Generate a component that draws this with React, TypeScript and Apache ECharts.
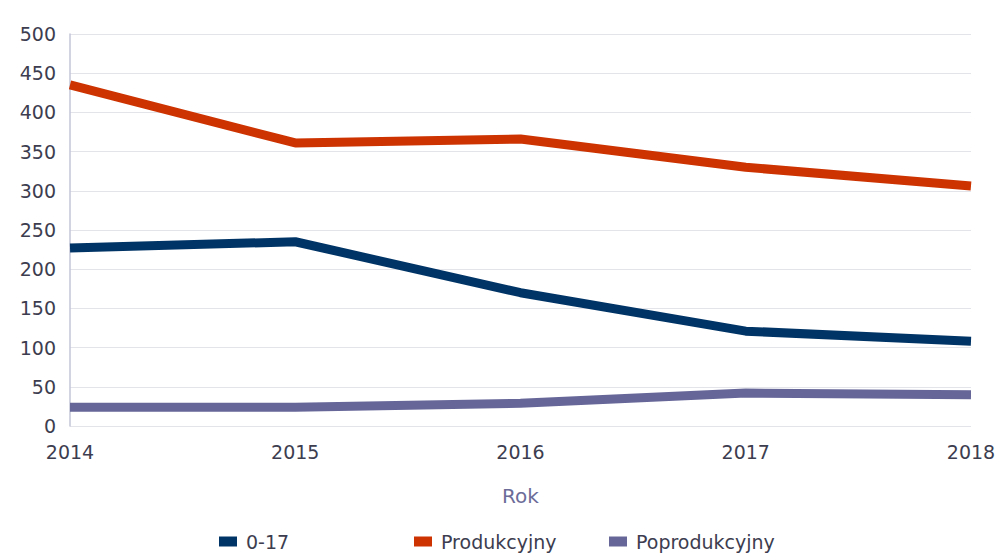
import React, { useEffect, useRef } from "react";
import * as echarts from "echarts";

const years = ["2014", "2015", "2016", "2017", "2018"];
const youth = [227, 235, 170, 121, 108];
const working = [435, 361, 366, 330, 306];
const retired = [24, 24, 29, 42, 40];

const names = ["0-17", "Produkcyjny", "Poprodukcyjny"];
const colors = ["#003466", "#cc3300", "#666699"];
const legendLefts = [219, 414, 609];

export default function App() {
  const ref = useRef<HTMLDivElement>(null);
  useEffect(() => {
    if (!ref.current) return;
    const chart = echarts.init(ref.current, undefined, { renderer: "svg" });
    const font = "'DejaVu Sans', Verdana, sans-serif";
    const seriesData = [youth, working, retired];
    chart.setOption({
      animation: false,
      backgroundColor: "#ffffff",
      grid: { left: 70, right: 30, top: 34, bottom: 130 },
      legend: names.map((n, i) => ({
        data: [n],
        left: legendLefts[i],
        top: 532,
        icon: "rect",
        itemWidth: 18,
        itemHeight: 10,
        itemGap: 10,
        selectedMode: false,
        padding: 0,
        textStyle: { fontFamily: font, fontSize: 19, color: "#3d3d50", padding: [0, 0, 0, 4] },
      })),
      xAxis: {
        type: "category",
        data: years,
        boundaryGap: false,
        name: "Rok",
        nameLocation: "middle",
        nameGap: 60,
        nameTextStyle: { fontFamily: font, fontSize: 20, color: "#6c6c99" },
        axisLine: { show: false },
        axisTick: { show: false },
        axisLabel: { fontFamily: font, fontSize: 19, color: "#3d3d50", margin: 16 },
        splitLine: { show: false },
      },
      yAxis: {
        type: "value",
        min: 0,
        max: 500,
        interval: 50,
        axisLine: { show: true, lineStyle: { color: "#c3c6d8", width: 1.5 } },
        axisTick: { show: false },
        axisLabel: { fontFamily: font, fontSize: 19, color: "#3d3d50", margin: 14 },
        splitLine: { show: true, lineStyle: { color: "#e3e3ea", width: 1 } },
      },
      series: names.map((n, i) => ({
        name: n,
        type: "line",
        data: seriesData[i],
        showSymbol: false,
        symbol: "none",
        lineStyle: { color: colors[i], width: 9 },
        itemStyle: { color: colors[i] },
      })),
    });
    return () => chart.dispose();
  }, []);
  return (
    <div
      ref={ref}
      style={{ position: "fixed", left: 0, top: 0, width: 1001, height: 556 }}
    />
  );
}
